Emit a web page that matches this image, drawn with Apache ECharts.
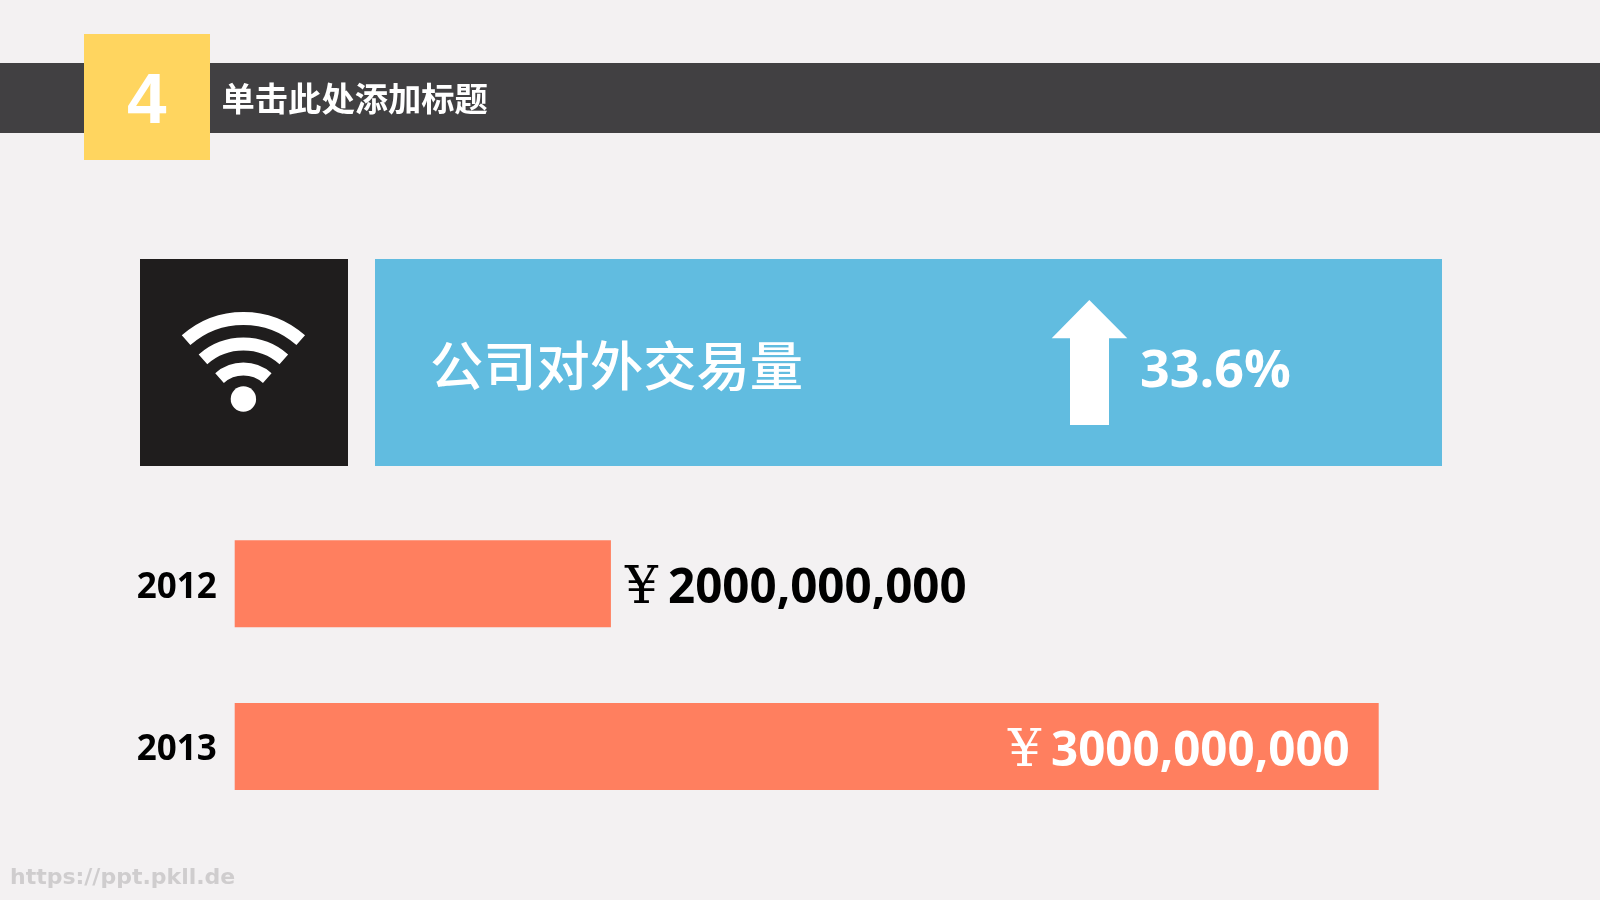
<!DOCTYPE html>
<html><head><meta charset="utf-8">
<style>html,body{margin:0;padding:0;background:#f3f1f2}#c{width:1600px;height:900px}</style>
<script src="https://cdn.jsdelivr.net/npm/echarts@6/dist/echarts.min.js"></script>
</head><body><div id="c"></div>
<script>
const years = ['2012', '2013'];
const amounts = [2000000000, 3000000000];
const amountLabels = ['2000,000,000', '3000,000,000'];
const sectionNumber = '4';
const titleText = '单击此处添加标题';
const metricName = '公司对外交易量';
const growthText = '33.6%';
const watermark = 'https://ppt.pkll.de';

const cjk = '"Noto Sans CJK SC"';
const latin = '"Open Sans", Lato, sans-serif';
const deg = Math.PI / 180;

function wifiArc(r) {
  return {
    type: 'arc', z: 12,
    shape: { cx: 243.4, cy: 405, r: r, startAngle: -131.5 * deg, endAngle: -48.5 * deg, clockwise: true },
    style: { stroke: '#ffffff', fill: null, lineWidth: 13, lineCap: 'butt' }
  };
}
function rect(x, y, w, h, fill, z) {
  return { type: 'rect', z: z, shape: { x: x, y: y, width: w, height: h }, style: { fill: fill } };
}
function text(str, x, y, font, fill, align) {
  return { type: 'text', z: 13, x: x, y: y,
    style: { text: str, fill: fill, font: font, textAlign: align || 'left', textVerticalAlign: 'middle' } };
}

const chart = echarts.init(document.getElementById('c'), null, { renderer: 'canvas' });
chart.setOption({
  backgroundColor: '#f3f1f2',
  animation: false,
  grid: { left: 234.7, width: 1144, top: 502.4, height: 325.5, containLabel: false },
  xAxis: { type: 'value', min: 1510000000, max: 3000000000, show: false },
  yAxis: {
    type: 'category', inverse: true, data: years,
    axisLine: { show: false }, axisTick: { show: false }, splitLine: { show: false },
    axisLabel: {
      margin: 18,
      formatter: '{a|{value}}',
      rich: { a: { padding: [8, 0, 0, 0], fontFamily: latin, fontWeight: 'bold', fontSize: 35, color: '#000000' } }
    }
  },
  series: [{
    type: 'bar', barWidth: 87, itemStyle: { color: '#ff7f5f' },
    data: amounts.map((v, i) => ({
      value: v,
      label: {
        show: true,
        position: i === 0 ? 'right' : 'insideRight',
        distance: i === 0 ? 8 : 29,
        offset: [0, 6],
        formatter: '{y|¥}{n|' + amountLabels[i] + '}',
        rich: {
          y: { fontFamily: '"DejaVu Serif"', fontSize: 52, color: i === 0 ? '#000000' : '#ffffff', padding: [0, 10, 0, 6] },
          n: { fontFamily: latin, fontWeight: 'bold', fontSize: 47.5, color: i === 0 ? '#000000' : '#ffffff' }
        }
      }
    }))
  }],
  graphic: { elements: [
    rect(0, 63, 1600, 70, '#414042', 10),
    rect(84, 34, 126, 126, '#ffd55f', 11),
    text(sectionNumber, 146.7, 103.5, 'bold 71px "Liberation Sans"', '#ffffff', 'center'),
    text(titleText, 221.5, 98, 'bold 33.3px ' + cjk, '#ffffff'),
    rect(140, 259, 208, 207, '#1f1d1d', 10),
    wifiArc(86.5), wifiArc(61), wifiArc(36),
    { type: 'circle', z: 12, shape: { cx: 243.4, cy: 399, r: 12.7 }, style: { fill: '#ffffff' } },
    rect(375, 259, 1067, 207, '#61bce0', 10),
    text(metricName, 430, 366, '500 53.3px ' + cjk, '#ffffff'),
    { type: 'polygon', z: 12,
      shape: { points: [[1089.3, 300], [1127.3, 338.3], [1109, 338.3], [1109, 425], [1070, 425], [1070, 338.3], [1051.7, 338.3]] },
      style: { fill: '#ffffff' } },
    text(growthText, 1140, 372, 'bold 52px ' + latin, '#ffffff'),
    text(watermark, 10, 878, 'bold 22px "DejaVu Sans"', '#cfcdce')
  ] }
});
</script></body></html>
